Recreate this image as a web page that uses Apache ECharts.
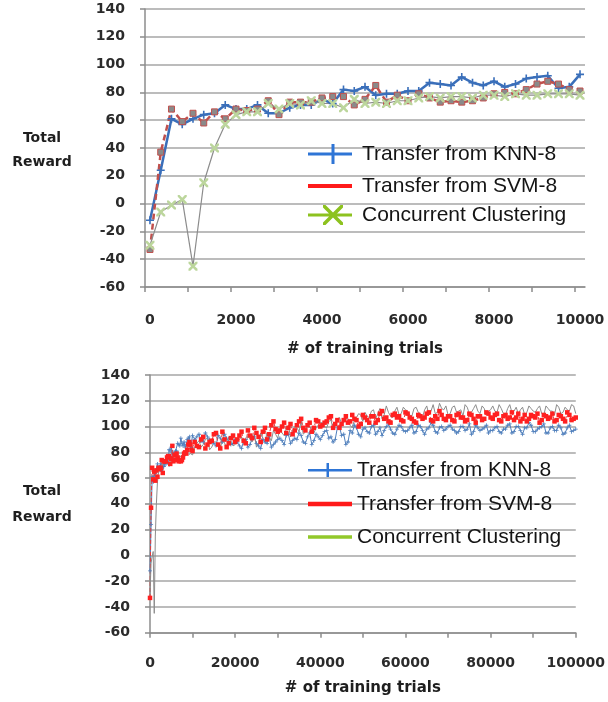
<!DOCTYPE html>
<html><head><meta charset="utf-8">
<script src="https://cdn.jsdelivr.net/npm/echarts@6/dist/echarts.min.js"></script>
<style>html,body{margin:0;padding:0;background:#fff}#c{width:608px;height:702px}</style>
</head><body><div id="c"></div>
<script>
// ---------- data ----------
const seriesNames = ['Transfer from KNN-8', 'Transfer from SVM-8', 'Concurrent Clustering'];
const yTicks = [-60, -40, -20, 0, 20, 40, 60, 80, 100, 120, 140];

// top chart (first 10000 trials)
const xTop = [0,250,500,750,1000,1250,1500,1750,2000,2250,2500,2750,3000,3250,3500,3750,4000,4250,4500,4750,5000,
  5250,5500,5750,6000,6250,6500,6750,7000,7250,7500,7750,8000,8250,8500,8750,9000,9250,9500,9750,10000];
const knnTop = [-12,24,61,57,61,64,65,71,68,68,71,65,65,69,71,71,75,72,82,81,84,
  78,79,79,81,81,87,86,85,91,87,85,88,84,86,90,91,92,83,84,93];
const svmTop = [-33,37,68,59,65,58,66,61,68,67,68,74,64,73,73,73,76,77,77,71,75,
  85,73,78,74,79,76,73,74,73,74,76,79,80,79,82,86,88,86,82,81];
const ccTop = [-30,-6,-1,3,-45,15,40,57,64,66,66,72,68,72,71,74,72,72,69,75,72,
  73,72,74,74,76,77,76,77,77,76,78,78,77,79,78,78,79,79,79,78];
const xTopLabels = [0,2000,4000,6000,8000,10000];

// bottom chart continuation: whole thousands (11000 .. 100000)
const xBottomCont = [11000,12000,13000,14000,15000,16000,17000,18000,19000,20000,
  21000,22000,23000,24000,25000,26000,27000,28000,29000,30000,
  31000,32000,33000,34000,35000,36000,37000,38000,39000,40000,
  41000,42000,43000,44000,45000,46000,47000,48000,49000,50000,
  51000,52000,53000,54000,55000,56000,57000,58000,59000,60000,
  61000,62000,63000,64000,65000,66000,67000,68000,69000,70000,
  71000,72000,73000,74000,75000,76000,77000,78000,79000,80000,
  81000,82000,83000,84000,85000,86000,87000,88000,89000,90000,
  91000,92000,93000,94000,95000,96000,97000,98000,99000,100000];
const knnCont = [92,89,95,90,87,93,88,91,86,90,
  85,89,84,91,87,83,88,92,86,90,
  89,93,87,91,95,88,92,86,94,90,
  96,91,88,99,93,86,97,101,94,98,
  96,100,94,99,97,102,95,98,100,96,
  99,95,101,97,98,103,96,99,97,100,
  98,95,100,97,102,96,99,98,101,97,
  99,96,98,101,95,100,97,99,103,96,
  98,100,95,99,97,101,94,99,96,98];
const svmCont = [85,90,83,88,94,86,96,84,91,88,
  93,89,97,91,95,88,99,94,104,96,
  100,95,102,97,104,99,101,96,105,100,
  103,107,99,105,102,108,104,106,100,109,
  105,108,103,110,106,104,109,107,105,111,
  107,104,109,106,110,105,108,112,106,108,
  105,109,107,104,110,106,108,105,111,107,
  109,105,108,106,111,107,104,109,106,108,
  110,105,108,107,104,109,106,111,105,107];
const ccCont = [87,84,90,82,88,85,91,83,89,86,
  90,86,93,88,84,95,89,92,97,91,
  95,98,92,100,96,94,102,97,99,103,
  100,104,98,106,102,108,101,105,110,104,
  108,112,106,114,109,111,107,115,110,113,
  109,114,111,107,116,112,110,118,113,109,
  115,111,113,117,110,114,112,116,109,113,
  112,117,110,114,111,115,113,109,116,112,
  114,110,116,112,109,115,111,113,117,110];

// bottom chart continuation: half thousands (10500 .. 99500)
const xBottomHalf = [10500,11500,12500,13500,14500,15500,16500,17500,18500,19500,
  20500,21500,22500,23500,24500,25500,26500,27500,28500,29500,
  30500,31500,32500,33500,34500,35500,36500,37500,38500,39500,
  40500,41500,42500,43500,44500,45500,46500,47500,48500,49500,
  50500,51500,52500,53500,54500,55500,56500,57500,58500,59500,
  60500,61500,62500,63500,64500,65500,66500,67500,68500,69500,
  70500,71500,72500,73500,74500,75500,76500,77500,78500,79500,
  80500,81500,82500,83500,84500,85500,86500,87500,88500,89500,
  90500,91500,92500,93500,94500,95500,96500,97500,98500,99500];
const knnHalf = [90,94,88,92,89,85,91,94,88,87,
  88,83,90,86,92,85,90,87,84,88,
  91,86,94,89,90,93,87,95,89,92,
  93,97,92,90,100,94,88,95,99,92,
  99,95,101,96,93,100,98,94,101,97,
  97,101,96,100,94,99,101,95,100,98,
  101,97,96,100,98,94,101,97,99,95,
  97,100,95,98,102,96,100,94,99,101,
  96,99,102,95,100,97,99,95,101,97];
const svmHalf = [88,84,92,86,89,95,83,90,87,93,
  90,96,87,93,99,92,96,90,101,98,
  97,103,99,94,101,106,97,103,99,104,
  101,104,108,102,99,105,103,109,105,102,
  107,103,108,105,112,107,103,110,108,104,
  110,106,103,108,107,111,104,106,109,105,
  108,104,110,107,105,109,103,108,106,110,
  106,110,104,109,107,105,110,106,104,109,
  107,103,109,106,110,105,108,104,109,106];
const ccHalf = [84,89,86,91,84,88,82,87,92,85,
  88,92,87,90,94,87,91,95,89,94,
  98,93,101,97,99,104,96,100,95,101,
  103,99,105,101,107,103,106,99,107,109,
  111,107,113,110,106,116,108,112,109,115,
  112,108,115,110,113,109,117,111,114,116,
  110,116,112,108,115,111,117,110,114,112,
  116,111,114,109,117,112,110,115,111,114,
  111,116,109,114,112,117,110,115,112,116];
const xBottomLabels = [0,20000,40000,60000,80000,100000];
const xBottomTicks = [0,10000,20000,30000,40000,50000,60000,70000,80000,90000,100000];

// ---------- build ----------
const pairs = (xs, ys) => xs.map((x, i) => [x, ys[i]]);
function bottomData(topVals, halfVals, contVals) {
  const out = pairs(xTop, topVals);
  for (let i = 0; i < xBottomCont.length; i++) {
    out.push([xBottomHalf[i], halfVals[i]]);
    out.push([xBottomCont[i], contVals[i]]);
  }
  return out;
}

const PLUS = 'path://M0,4L10,4L10,6L0,6Z M4,0L6,0L6,10L4,10Z';
const XMARK = 'path://M0,0L2,0L5,3L8,0L10,0L10,2L7,5L10,8L10,10L8,10L5,7L2,10L0,10L0,8L3,5L0,2Z';
const LG_PLUS_TOP = 'path://M0,8.5L44,8.5L44,11.5L0,11.5Z M23.5,0L26.5,0L26.5,20L23.5,20Z';
const LG_X_TOP = 'path://M0,8.5L44,8.5L44,11.5L0,11.5Z M15,0L17.5,0L25,7.5L32.5,0L35,0L35,2.5L27.5,10L35,17.5L35,20L32.5,20L25,12.5L17.5,20L15,20L15,17.5L22.5,10L15,2.5Z';
const LG_PLUS_BOT = 'path://M0,6L44,6L44,8.5L0,8.5Z M18.5,0L21,0L21,14L18.5,14Z';

const axisGray = '#8c8c8c';
const labelFont = {fontFamily: 'DejaVu Sans', fontWeight: 'bold', fontSize: 14, color: '#2b2b2b'};
const plainNum = v => String(v);

function yAxisCfg(gi) {
  return {type: 'value', gridIndex: gi, min: yTicks[0], max: yTicks[yTicks.length - 1], interval: 20,
    axisLine: {show: true, onZero: false, lineStyle: {color: axisGray, width: 1.5}},
    axisTick: {show: true, length: 5, lineStyle: {color: axisGray, width: 1.5}},
    splitLine: {show: true, lineStyle: {color: '#a6a6a6', width: 1.5}},
    axisLabel: Object.assign({margin: 20, formatter: plainNum}, labelFont)};
}

function legendCfg(name, cy, icon, w, h, color, pad) {
  const hh = Math.max(h, 21);
  return {show: true, left: 308, top: cy - hh / 2, padding: 0, itemWidth: w, itemHeight: h,
    icon: icon, symbolKeepAspect: false, selectedMode: false,
    data: [{name: name, icon: icon, itemStyle: {color: color, borderWidth: 0}}],
    textStyle: {fontSize: 21, fontFamily: 'Liberation Sans, Arial', color: '#141414', padding: [0, 0, 0, pad]}};
}

const nameStyle = {fontFamily: 'DejaVu Sans', fontWeight: 'bold', fontSize: 15, color: '#1e1e1e'};

const option = {
  animation: false,
  backgroundColor: '#ffffff',
  grid: [
    {left: 145, right: 23, top: 9, height: 278},
    {left: 150, right: 31, top: 375, height: 257.7}
  ],
  xAxis: [
    {type: 'value', gridIndex: 0, min: -116, max: 10116,
      name: '# of training trials', nameLocation: 'middle', nameGap: 55, nameTextStyle: nameStyle,
      axisLine: {show: true, onZero: false, lineStyle: {color: axisGray, width: 1.5}},
      axisTick: {show: true, length: 5, customValues: [-116,884,1884,2884,3884,4884,5884,6884,7884,8884,9884], lineStyle: {color: axisGray, width: 1.5}},
      splitLine: {show: false},
      axisLabel: Object.assign({margin: 26, customValues: xTopLabels, formatter: plainNum}, labelFont)},
    {type: 'value', gridIndex: 1, min: 0, max: 100000,
      name: '# of training trials', nameLocation: 'middle', nameGap: 48, nameTextStyle: nameStyle,
      axisLine: {show: true, onZero: false, lineStyle: {color: axisGray, width: 1.5}},
      axisTick: {show: true, length: 5, customValues: xBottomTicks, lineStyle: {color: axisGray, width: 1.5}},
      splitLine: {show: false},
      axisLabel: Object.assign({margin: 24, customValues: xBottomLabels, formatter: plainNum}, labelFont)}
  ],
  yAxis: [yAxisCfg(0), yAxisCfg(1)],
  legend: [
    legendCfg(seriesNames[0], 154, LG_PLUS_TOP, 44, 20, '#2e75d6', 5),
    legendCfg(seriesNames[1], 186, 'rect', 44, 4, '#ff1a1a', 5),
    legendCfg(seriesNames[2], 215, LG_X_TOP, 44, 20, '#8dc21f', 5),
    legendCfg(seriesNames[0], 470, LG_PLUS_BOT, 44, 14, '#2e75d6', 0),
    legendCfg(seriesNames[1], 504, 'rect', 44, 4.5, '#ff1a1a', 0),
    legendCfg(seriesNames[2], 537, 'rect', 44, 3.5, '#92c82a', 0)
  ],
  graphic: [
    {type: 'text', x: 42, y: 138, style: {text: 'Total', textAlign: 'center', textVerticalAlign: 'middle', font: 'bold 14px "DejaVu Sans"', fill: '#1e1e1e'}},
    {type: 'text', x: 42, y: 162.5, style: {text: 'Reward', textAlign: 'center', textVerticalAlign: 'middle', font: 'bold 14px "DejaVu Sans"', fill: '#1e1e1e'}},
    {type: 'text', x: 42, y: 491, style: {text: 'Total', textAlign: 'center', textVerticalAlign: 'middle', font: 'bold 14px "DejaVu Sans"', fill: '#1e1e1e'}},
    {type: 'text', x: 42, y: 517, style: {text: 'Reward', textAlign: 'center', textVerticalAlign: 'middle', font: 'bold 14px "DejaVu Sans"', fill: '#1e1e1e'}}
  ],
  series: [
    {type: 'line', name: seriesNames[0], xAxisIndex: 0, yAxisIndex: 0, data: pairs(xTop, knnTop),
      symbol: PLUS, symbolSize: 8, lineStyle: {color: '#3a6fba', width: 2.5}, itemStyle: {color: '#3a6fba'}},
    {type: 'line', name: seriesNames[1], xAxisIndex: 0, yAxisIndex: 0, data: pairs(xTop, svmTop),
      symbol: 'rect', symbolSize: 6, lineStyle: {color: '#c0504d', width: 2.5, type: [6, 4]},
      itemStyle: {color: '#8a8a8a', borderColor: '#c0504d', borderWidth: 1}},
    {type: 'line', name: seriesNames[2], xAxisIndex: 0, yAxisIndex: 0, data: pairs(xTop, ccTop),
      symbol: XMARK, symbolSize: 9, lineStyle: {color: '#8c8c8c', width: 1.2}, itemStyle: {color: '#bcd69c'}},

    {type: 'line', name: seriesNames[0], xAxisIndex: 1, yAxisIndex: 1, data: bottomData(knnTop, knnHalf, knnCont),
      symbol: PLUS, symbolSize: 4, lineStyle: {color: '#4f7fbc', width: 1}, itemStyle: {color: '#4f7fbc'}},
    {type: 'line', name: seriesNames[1], xAxisIndex: 1, yAxisIndex: 1, data: bottomData(svmTop, svmHalf, svmCont),
      symbol: 'rect', symbolSize: 4.5, lineStyle: {color: '#e03a3a', width: 1, type: [4, 2]},
      itemStyle: {color: '#ff2020'}},
    {type: 'line', name: seriesNames[2], xAxisIndex: 1, yAxisIndex: 1, data: bottomData(ccTop, ccHalf, ccCont),
      showSymbol: false, symbol: 'none', lineStyle: {color: '#8c8c8c', width: 1}, itemStyle: {color: '#8c8c8c'}}
  ]
};
const chart = echarts.init(document.getElementById('c'), null, {renderer: 'canvas'});
chart.setOption(option);
</script></body></html>
